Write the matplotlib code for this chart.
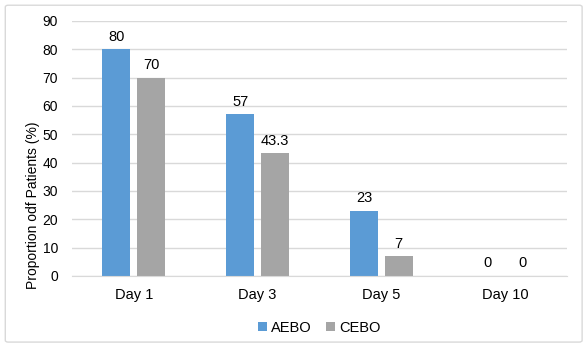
import numpy as np
import matplotlib.pyplot as plt
from matplotlib.patches import FancyBboxPatch

plt.rcParams['font.family'] = ['Liberation Sans', 'DejaVu Sans']

# data
days = ["Day 1", "Day 3", "Day 5", "Day 10"]
aebo = [80, 57, 23, 0]
cebo = [70, 43.3, 7, 0]
aebo_labels = ["80", "57", "23", "0"]
cebo_labels = ["70", "43.3", "7", "0"]

blue = "#5B9BD5"
gray = "#A5A5A5"
grid_c = "#D9D9D9"

fig = plt.figure(figsize=(5.88, 3.48), dpi=100)
ax = fig.add_axes([0.1224, 0.2069, 0.8418, 0.7328])

# outer chart border
border = FancyBboxPatch((0.009, 0.017), 0.981, 0.968, boxstyle="round,pad=0,rounding_size=0.005",
                        transform=fig.transFigure, fill=False, edgecolor=grid_c, linewidth=1)
fig.patches.append(border)

x = np.arange(len(days))
w = 0.226
off = 0.141
b1 = ax.bar(x - off, aebo, w, color=blue, label="AEBO", zorder=2)
b2 = ax.bar(x + off, cebo, w, color=gray, label="CEBO", zorder=2)

for bars, labs in ((b1, aebo_labels), (b2, cebo_labels)):
    for r, lab in zip(bars, labs):
        ax.annotate(lab, (r.get_x() + r.get_width() / 2, r.get_height()),
                    xytext=(0, 4), textcoords="offset points",
                    ha="center", va="bottom", fontsize=10.5, color="#000000")

ax.set_xlim(-0.5, 3.5)
ax.set_ylim(0, 90)
ax.set_yticks(range(0, 91, 10))
ax.set_xticks(x)
ax.set_xticklabels(days)
ax.tick_params(axis='both', length=0, labelsize=10, colors="#000000")
ax.tick_params(axis='x', pad=9, labelsize=10.5)
ax.tick_params(axis='y', pad=10)
ax.yaxis.grid(True, color=grid_c, linewidth=1, zorder=0)
ax.set_axisbelow(True)
for s in ["top", "right", "left"]:
    ax.spines[s].set_visible(False)
ax.spines["bottom"].set_color(grid_c)

# y label sits a bit low, as in the original
fig.text(33 / 588, 1 - 205 / 348, "Proportion odf Patients (%)", rotation=90,
         ha="center", va="center", fontsize=10)

ax.legend(loc="upper center", bbox_to_anchor=(0.5, -0.125), ncol=2, frameon=False,
          fontsize=10.5, handlelength=0.6, handleheight=0.6, handletextpad=0.3, columnspacing=1.0)

fig.savefig("out.png", dpi=100)
